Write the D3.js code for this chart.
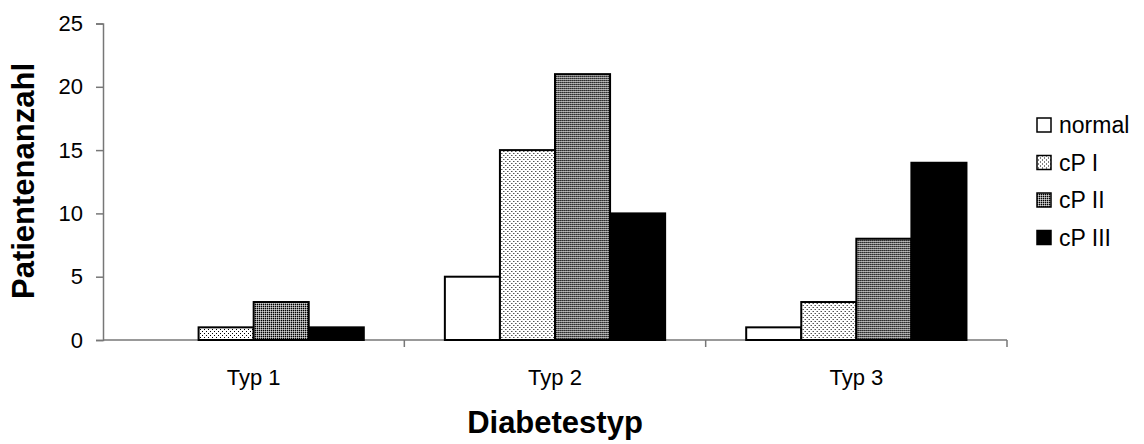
<!DOCTYPE html>
<html>
  <head>
    <meta charset="utf-8">
    <script src="https://d3js.org/d3.v7.min.js"></script>
    <title>Diabetestyp</title>
    <style type="text/css">
body {
  margin: 0;
  background-color: #fff;
}
svg text {
  font-family: 'Liberation Sans', Arial, sans-serif;
  fill: #000;
}
.tick text, .xlabel {
  font-size: 22px;
}
.axis-title {
  font-size: 31px;
  font-weight: bold;
}
.legend text {
  font-size: 23px;
}
    </style>
  </head>
  <body>
<svg></svg>
<script type="text/javascript">
  const categories = ["Typ 1", "Typ 2", "Typ 3"];
  const seriesNames = ["normal", "cP I", "cP II", "cP III"];
  const normal = [0, 5, 1];
  const cP1 = [1, 15, 3];
  const cP2 = [3, 21, 8];
  const cP3 = [1, 10, 14];
  const yTicks = [0, 5, 10, 15, 20, 25];

  const width = 1144, height = 444;
  const fills = ["#fff", "url(#dots)", "url(#dense)", "#000"];

  const svg = d3.select("svg")
      .attr("width", width)
      .attr("height", height);

  // hatch-like fills from the original (old office chart patterns)
  const defs = svg.append("defs");
  const dots = defs.append("pattern")
      .attr("id", "dots")
      .attr("width", 4).attr("height", 4)
      .attr("patternUnits", "userSpaceOnUse");
  dots.append("rect").attr("width", 4).attr("height", 4).attr("fill", "#fff");
  dots.append("rect").attr("x", 1).attr("y", 1).attr("width", 1).attr("height", 1).attr("fill", "#000");
  dots.append("rect").attr("x", 3).attr("y", 3).attr("width", 1).attr("height", 1).attr("fill", "#000");

  const dense = defs.append("pattern")
      .attr("id", "dense")
      .attr("width", 2).attr("height", 2)
      .attr("patternUnits", "userSpaceOnUse");
  dense.append("rect").attr("width", 2).attr("height", 2).attr("fill", "#8a8a8a");
  dense.append("rect").attr("width", 1).attr("height", 1).attr("fill", "#000");
  dense.append("rect").attr("x", 1).attr("y", 1).attr("width", 1).attr("height", 1).attr("fill", "#d0d0d0");

  const series = [normal, cP1, cP2, cP3];

  const x0 = d3.scaleBand()
      .domain(categories)
      .range([103, 1007])
      .padding(0);

  const x1 = d3.scaleBand()
      .domain(seriesNames)
      .range([0, x0.bandwidth()])
      .paddingInner(0)
      .paddingOuter(0.736);

  const y = d3.scaleLinear()
      .domain([0, 25])
      .range([340, 23.5]);

  // y axis
  const yAxis = svg.append("g")
      .attr("transform", "translate(103,0)")
      .call(d3.axisLeft(y).tickValues(yTicks).tickSize(7).tickPadding(13));
  yAxis.select(".domain").attr("stroke", "#777").attr("stroke-width", 1.5);
  yAxis.selectAll(".tick line").attr("stroke", "#777").attr("stroke-width", 1.5);

  // x axis, ticks between categories
  const xAxis = svg.append("g")
      .attr("transform", "translate(0,340)");
  xAxis.append("line")
      .attr("x1", 103).attr("x2", 1007)
      .attr("stroke", "#777").attr("stroke-width", 1.5);
  xAxis.selectAll(".xtick")
      .data(categories.slice(1).concat(["end"]))
      .enter().append("line")
        .attr("x1", (d, i) => x0(categories[0]) + x0.step() * (i + 1))
        .attr("x2", (d, i) => x0(categories[0]) + x0.step() * (i + 1))
        .attr("y1", 0).attr("y2", 7)
        .attr("stroke", "#777").attr("stroke-width", 1.5);
  xAxis.selectAll(".xlabel")
      .data(categories)
      .enter().append("text")
        .attr("class", "xlabel")
        .attr("x", d => x0(d) + x0.bandwidth() / 2)
        .attr("y", 45)
        .attr("text-anchor", "middle")
        .text(d => d);

  // bars
  const groups = svg.selectAll(".group")
      .data(categories)
      .enter().append("g")
        .attr("transform", d => "translate(" + x0(d) + ",0)");

  groups.selectAll("rect")
      .data((c, ci) => seriesNames.map((s, si) => ({ s: s, si: si, v: series[si][ci] })))
      .enter().append("rect")
        .filter(d => d.v > 0)
        .attr("x", d => x1(d.s))
        .attr("y", d => y(d.v))
        .attr("width", x1.bandwidth())
        .attr("height", d => y(0) - y(d.v))
        .attr("fill", d => fills[d.si])
        .attr("stroke", "#000")
        .attr("stroke-width", 2);

  // axis titles
  svg.append("text")
      .attr("class", "axis-title")
      .attr("transform", "translate(34,181) rotate(-90)")
      .attr("text-anchor", "middle")
      .text("Patientenanzahl");

  svg.append("text")
      .attr("class", "axis-title")
      .attr("x", 555)
      .attr("y", 433)
      .attr("text-anchor", "middle")
      .text("Diabetestyp");

  // legend
  const ly = d3.scalePoint().domain(seriesNames).range([125, 237.5]);
  const legend = svg.append("g").attr("class", "legend");
  const item = legend.selectAll("g")
      .data(seriesNames)
      .enter().append("g")
        .attr("transform", d => "translate(1037," + ly(d) + ")");
  item.append("rect")
      .attr("x", 0).attr("y", -7)
      .attr("width", 14).attr("height", 14)
      .attr("fill", (d, i) => fills[i])
      .attr("stroke", "#000")
      .attr("stroke-width", 1.5);
  item.append("text")
      .attr("x", 22)
      .attr("y", 8)
      .text(d => d);
</script>
  </body>
</html>
